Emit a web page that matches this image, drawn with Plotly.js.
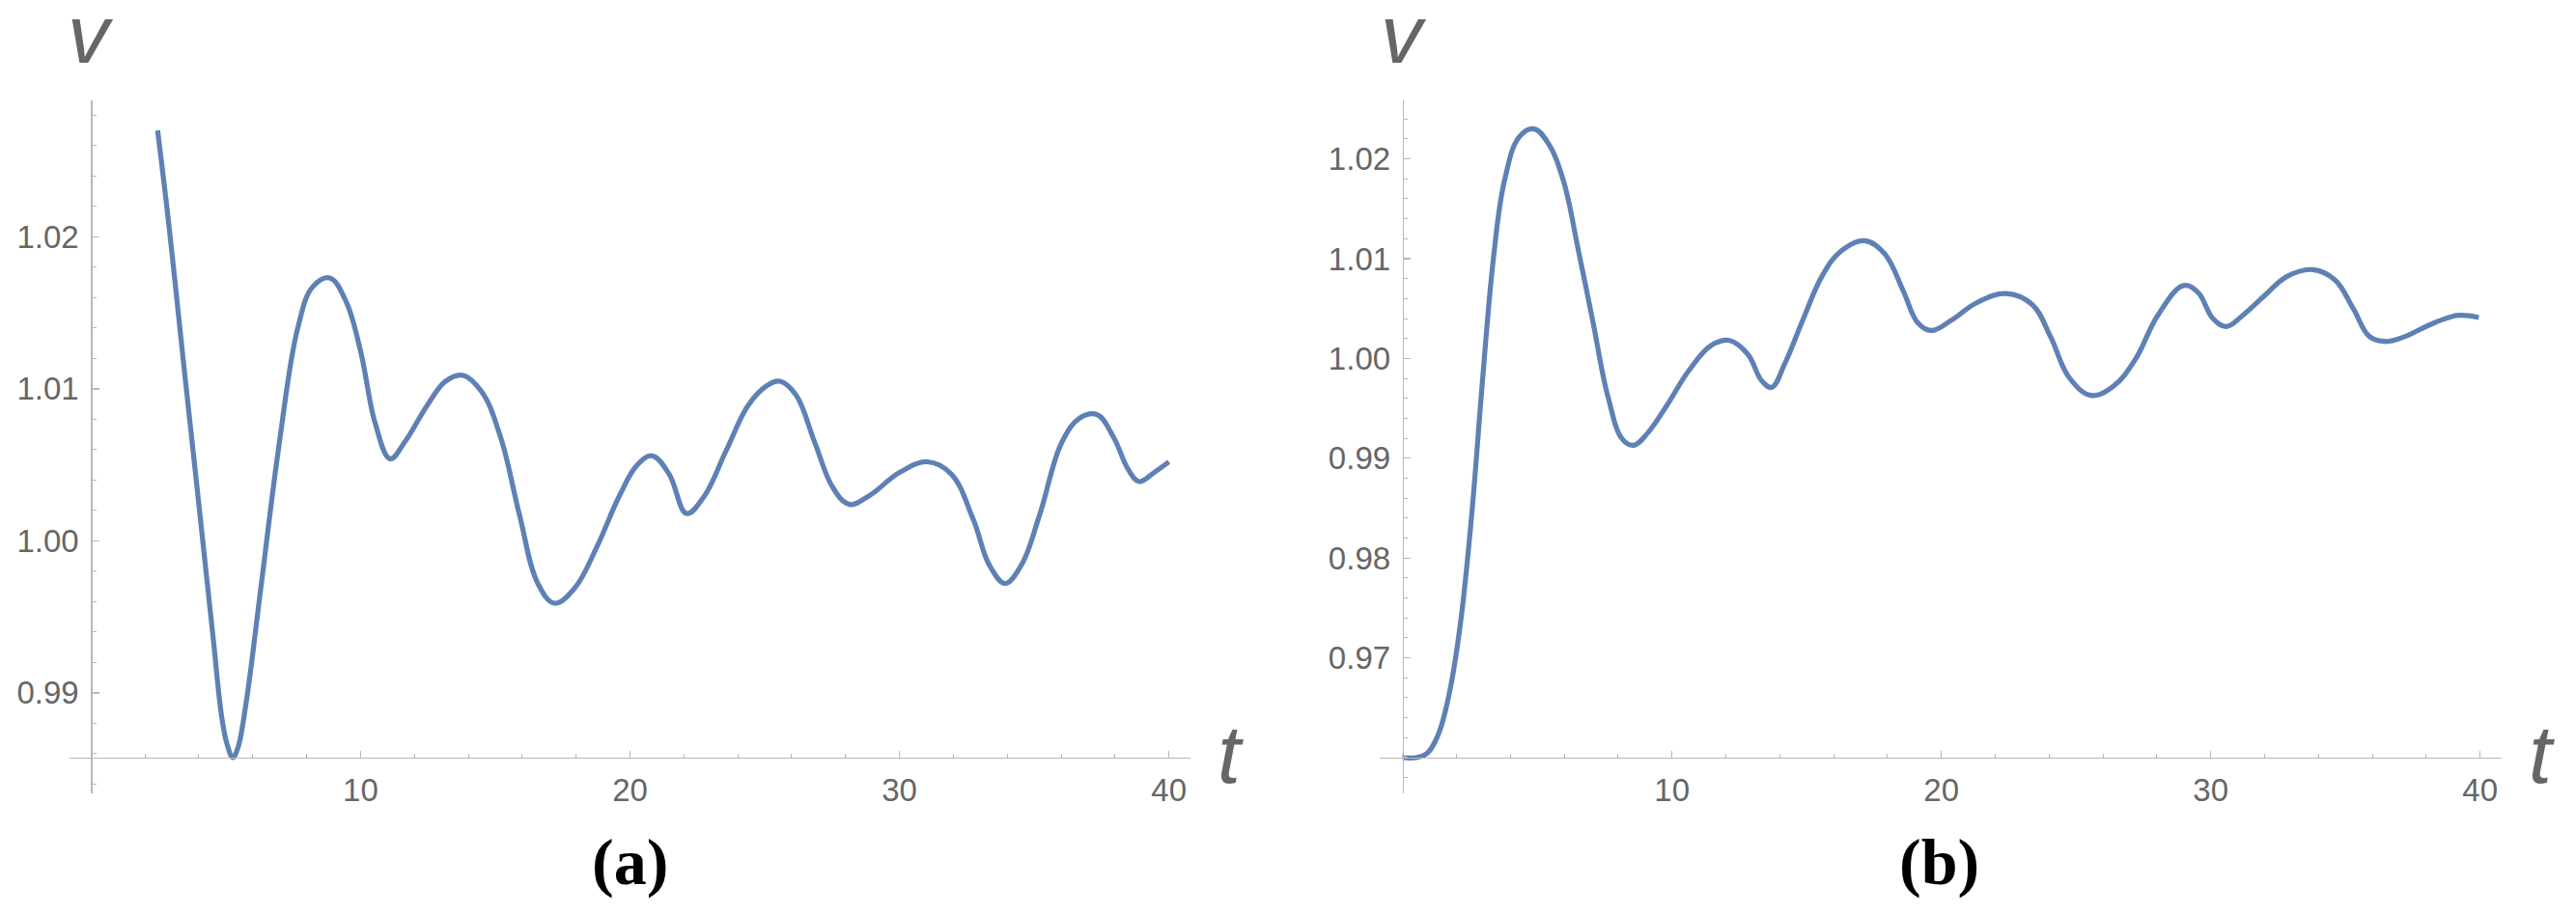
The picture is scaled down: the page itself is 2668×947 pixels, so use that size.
<!DOCTYPE html>
<html>
<head>
<meta charset="utf-8">
<script src="https://cdn.plot.ly/plotly-3.0.1.min.js"></script>
<style>html,body{margin:0;padding:0;background:#fff;}#chart{width:2668px;height:947px;}</style>
</head>
<body>
<div id="chart"></div>
<script>
// Panel (a) data: time t and voltage v
const tA = [2.47, 2.88, 3.42, 3.97, 4.52, 4.85, 5.05, 5.26, 5.45, 5.75, 6.30, 6.99, 7.67, 8.22, 8.85, 9.45, 10.0, 10.55, 11.1, 11.64, 12.47, 13.15, 13.78, 14.5, 15.2, 15.9, 16.58, 17.2, 17.95, 18.77, 19.59, 20.27, 20.82, 21.45, 22.1, 22.74, 23.56, 24.38, 25.07, 25.56, 26.16, 26.85, 27.53, 28.14, 28.9, 30.0, 31.04, 31.92, 32.74, 33.34, 33.92, 34.52, 35.2, 36.03, 36.71, 37.34, 37.95, 38.49, 38.9, 39.45, 40.0];
const vA = [1.0270, 1.0209, 1.0119, 1.0029, 0.9938, 0.9884, 0.9866, 0.98574, 0.9864, 0.9893, 0.9969, 1.0065, 1.0140, 1.0167, 1.0173, 1.0158, 1.0125, 1.0077, 1.0054, 1.0065, 1.0089, 1.0105, 1.0109, 1.0098, 1.0068, 1.0017, 0.9972, 0.9959, 0.9969, 0.9996, 1.0029, 1.0050, 1.0056, 1.0044, 1.0018, 1.0029, 1.0059, 1.0089, 1.0102, 1.0105, 1.0096, 1.0065, 1.0035, 1.0024, 1.0030, 1.0045, 1.0052, 1.0044, 1.0014, 0.9984, 0.9972, 0.9984, 1.0017, 1.0065, 1.0081, 1.0083, 1.0068, 1.0047, 1.0039, 1.0045, 1.0052];

// Panel (b) data
const tB = [0, 0.49, 0.9, 1.32, 1.73, 2.14, 2.55, 2.96, 3.37, 3.78, 4.33, 4.88, 5.42, 5.97, 6.52, 7.07, 7.62, 8.16, 8.58, 9.12, 9.81, 10.63, 11.45, 12.14, 12.82, 13.32, 13.7, 14.19, 14.88, 15.56, 16.25, 17.15, 17.89, 18.58, 19.12, 19.62, 20.36, 21.32, 22.41, 23.37, 24.05, 24.74, 25.56, 26.38, 27.2, 28.03, 28.99, 29.53, 30.08, 30.58, 31.18, 32.0, 32.82, 33.78, 34.6, 35.29, 35.89, 36.52, 37.21, 38.16, 39.12, 39.95];
const vB = [0.9600, 0.9600, 0.9604, 0.9623, 0.9664, 0.9733, 0.9839, 0.9976, 1.0100, 1.0178, 1.0222, 1.0230, 1.0215, 1.0178, 1.0109, 1.0036, 0.9962, 0.9919, 0.9913, 0.9926, 0.9953, 0.9988, 1.0013, 1.0018, 1.0004, 0.9978, 0.9971, 0.9995, 1.0040, 1.0082, 1.0107, 1.0118, 1.0105, 1.0068, 1.0036, 1.0028, 1.0038, 1.0056, 1.0065, 1.0054, 1.0022, 0.9981, 0.9963, 0.9972, 0.9999, 1.0043, 1.0073, 1.0066, 1.0040, 1.0032, 1.0043, 1.0063, 1.0082, 1.0089, 1.0079, 1.0050, 1.0022, 1.0017, 1.0022, 1.0034, 1.0043, 1.0041];

// Tick labels
const xTicks = [10, 20, 30, 40];
const yTicksA = [0.99, 1.00, 1.01, 1.02];
const yTicksB = [0.97, 0.98, 0.99, 1.00, 1.01, 1.02];
const panelLabels = ['(a)', '(b)'];
const axisLabelX = 't';
const axisLabelY = 'v';

const W = 2668, H = 947;
const lineColor = '#5E81B5';
const axisColor = '#b8b8b8';
const labelColor = '#666666';
const tickFont = {family: 'Liberation Sans, Arial, sans-serif', size: 33, color: labelColor};

const yTopPx = 104, yBotPx = 822, xAxisPx = 785;
const yDomain = [1 - yBotPx / H, 1 - yTopPx / H];
const xAxisPos = 1 - xAxisPx / H;

function xAxis(domain, range) {
  return {
    domain: domain, range: range, anchor: 'free', position: xAxisPos,
    showline: true, linecolor: axisColor, linewidth: 1.3,
    showgrid: false, zeroline: false,
    tickmode: 'array', tickvals: xTicks, ticktext: xTicks.map(String),
    ticks: 'inside', ticklen: 7, tickwidth: 1.2, tickcolor: axisColor,
    minor: {tickmode: 'linear', tick0: 0, dtick: 2, ticks: 'inside', ticklen: 4, tickwidth: 1, tickcolor: axisColor},
    tickfont: tickFont, ticklabelstandoff: 4, fixedrange: true
  };
}
function yAxis(range, ticks, posPx) {
  return {
    domain: yDomain, range: range, anchor: 'free', position: posPx / W,
    showline: true, linecolor: axisColor, linewidth: 1.3,
    showgrid: false, zeroline: false,
    tickmode: 'array', tickvals: ticks, ticktext: ticks.map(v => v.toFixed(2)),
    ticks: 'inside', ticklen: 7, tickwidth: 1.2, tickcolor: axisColor,
    minor: {tickmode: 'linear', tick0: 0, dtick: 0.002, ticks: 'inside', ticklen: 4, tickwidth: 1, tickcolor: axisColor},
    tickfont: tickFont, ticklabelstandoff: 6, fixedrange: true
  };
}

const traces = [
  {x: tA, y: vA, xaxis: 'x', yaxis: 'y', type: 'scatter', mode: 'lines',
   line: {color: lineColor, width: 5.2, shape: 'spline', smoothing: 1.1}, hoverinfo: 'skip', cliponaxis: false},
  {x: tB, y: vB, xaxis: 'x2', yaxis: 'y2', type: 'scatter', mode: 'lines',
   line: {color: lineColor, width: 5.2, shape: 'spline', smoothing: 1.1}, hoverinfo: 'skip', cliponaxis: false}
];

const italicFont = {family: 'Liberation Sans, Arial, sans-serif', size: 86, color: labelColor};
const panelFont = {family: 'Liberation Serif, Times New Roman, serif', size: 68, color: '#000000'};

const annotations = [
  {xref: 'paper', yref: 'paper', x: 94 / W, y: 1 - 35 / H, text: '<i>' + axisLabelY + '</i>', showarrow: false, font: italicFont, xanchor: 'center', yanchor: 'middle'},
  {xref: 'paper', yref: 'paper', x: 1454 / W, y: 1 - 35 / H, text: '<i>' + axisLabelY + '</i>', showarrow: false, font: italicFont, xanchor: 'center', yanchor: 'middle'},
  {xref: 'paper', yref: 'paper', x: 1274 / W, y: 1 - 781 / H, text: '<i>' + axisLabelX + '</i>', showarrow: false, font: italicFont, xanchor: 'center', yanchor: 'middle'},
  {xref: 'paper', yref: 'paper', x: 2632 / W, y: 1 - 781 / H, text: '<i>' + axisLabelX + '</i>', showarrow: false, font: italicFont, xanchor: 'center', yanchor: 'middle'},
  {xref: 'paper', yref: 'paper', x: 652 / W, y: 1 - 893 / H, text: '<b>' + panelLabels[0] + '</b>', showarrow: false, font: panelFont, xanchor: 'center', yanchor: 'middle'},
  {xref: 'paper', yref: 'paper', x: 2008 / W, y: 1 - 893 / H, text: '<b>' + panelLabels[1] + '</b>', showarrow: false, font: panelFont, xanchor: 'center', yanchor: 'middle'}
];

const layout = {
  width: W, height: H,
  margin: {l: 0, r: 0, t: 0, b: 0, pad: 0},
  paper_bgcolor: '#ffffff', plot_bgcolor: '#ffffff',
  showlegend: false,
  xaxis: xAxis([72 / W, 1233 / W], [-0.8, 40.8]),
  yaxis: yAxis([0.98339, 1.02898], yTicksA, 94.3),
  xaxis2: xAxis([1429 / W, 2591 / W], [-0.85, 40.8]),
  yaxis2: yAxis([0.95642, 1.02586], yTicksB, 1452.7),
  annotations: annotations
};

Plotly.newPlot('chart', traces, layout, {staticPlot: true, displayModeBar: false});
</script>
</body>
</html>
